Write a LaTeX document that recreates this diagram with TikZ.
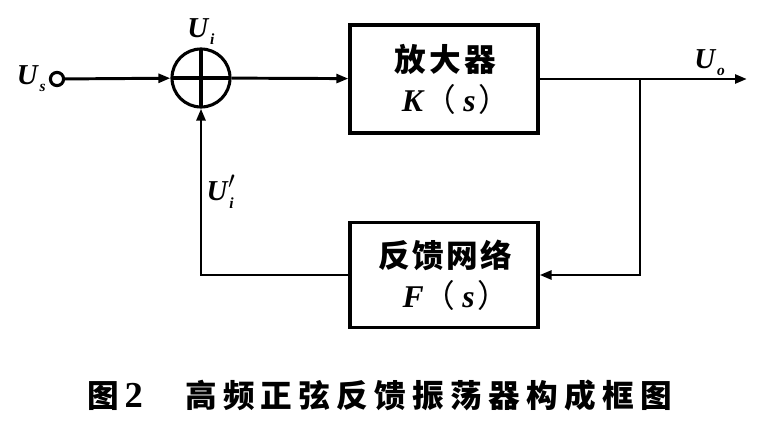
\documentclass[tikz,border=0pt]{standalone}
\usepackage{fontspec}
\setmainfont{Liberation Serif}
\newfontfamily\cjk{Noto Sans CJK SC}
\usetikzlibrary{arrows.meta, positioning, calc}
\newcommand{\sig}[2]{\textbf{\textit{#1}}\kern0.5pt\raisebox{-0.55ex}{\fontsize{11}{12}\selectfont\textbf{\textit{#2}}}}
\newcommand{\sigp}[2]{\textbf{\textit{#1}}\kern-0.5pt\rlap{\raisebox{0.9ex}{\fontsize{16}{16}\selectfont$\prime$}}\kern1pt\raisebox{-0.55ex}{\fontsize{11}{12}\selectfont\textbf{\textit{#2}}}}
\newcommand{\tfn}[1]{\kern6pt\textbf{\textit{#1}}{\cjk （}\kern5pt\textbf{\textit{s}}\kern2pt{\cjk ）}\kern-11pt}
\tikzset{
  blockbox/.style={rectangle, draw, line width=2.2pt, minimum width=4.7cm, minimum height=2.7cm, align=center, font=\fontsize{22.5}{28.5}\selectfont},
  sumnode/.style={circle, draw, line width=2.2pt, minimum size=1.45cm, inner sep=0pt, path picture={\draw[line width=2.2pt] (path picture bounding box.north) -- (path picture bounding box.south) (path picture bounding box.west) -- (path picture bounding box.east);}},
  portnode/.style={circle, draw, line width=2.2pt, minimum size=0.33cm, inner sep=0pt},
  arrow/.style={-{Triangle[length=0.3cm, width=0.22cm]}, line width=2.1pt},
  siglabel/.style={font=\fontsize{20.5}{24}\selectfont, inner sep=1pt},
  captext/.style={font=\fontsize{22.5}{27}\selectfont\bfseries}
}
\begin{document}
\begin{tikzpicture}[x=0.025cm, y=0.025cm]
  \useasboundingbox (0,0) rectangle (757,427);
  \node[portnode] (src) at (57,348) {};
  \node[sumnode] (sum) at (201,349) {};
  \node[blockbox] (amp) at (444,348) {{\cjk\bfseries\addfontfeature{LetterSpace=10}放大器\kern-2pt}\\\tfn{K}};
  \node[blockbox, minimum height=2.625cm] (fb) at (444,152) {{\cjk\bfseries\addfontfeature{LetterSpace=8}反馈网络\kern-2pt}\\\tfn{F}};
  \coordinate (out) at (747,348);
  \coordinate (tap) at (640,348);

  \node[siglabel, left=1pt of src] (us) {\sig{U}{s}};
  \node[siglabel, above=1pt of sum] (ui) {\sig{U}{i}};

  \draw[arrow] (src) -- (sum);
  \draw[arrow] (sum) -- (amp);
  \draw[arrow] (amp) -- node[siglabel, above, pos=0.82] (uo) {\sig{U}{o}} (out);
  \draw[arrow] (tap) |- (fb);
  \draw[arrow] (fb) -| node[siglabel, right=2pt, pos=0.75] (uf) {\sigp{U}{i}} (sum);

  \node[captext] (cap) at (380,32) {{\cjk 图}\,{\fontsize{26}{27}\selectfont 2}\hspace{30pt}{\cjk\addfontfeature{LetterSpace=20}高频正弦反馈振荡器构成框图}};
\end{tikzpicture}
\end{document}
